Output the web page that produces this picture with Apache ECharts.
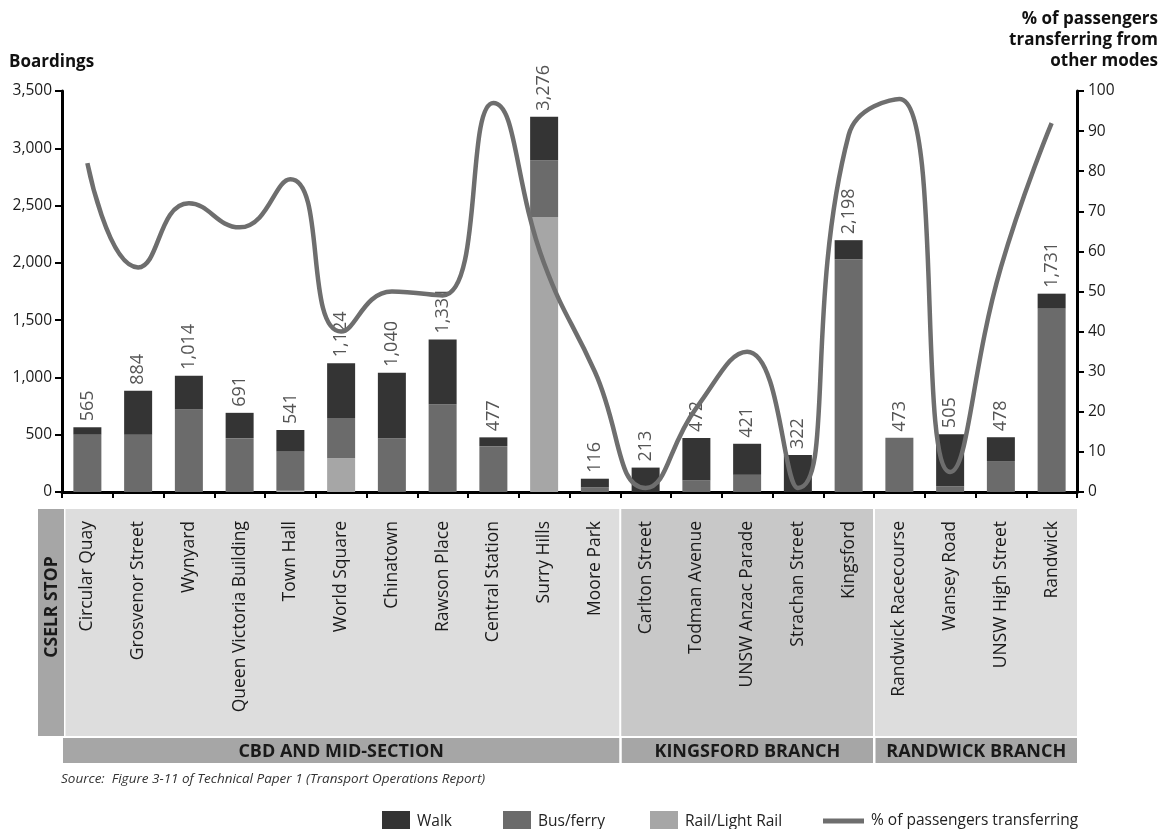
<!DOCTYPE html>
<html>
<head>
<meta charset="utf-8">
<script src="https://cdn.jsdelivr.net/npm/echarts@6/dist/echarts.min.js"></script>
<style>
  html, body { margin: 0; padding: 0; background: #ffffff; }
  #chart { width: 1162px; height: 829px; }
</style>
</head>
<body>
<div id="chart"></div>
<script>
// CSELR stops, in line order
const stops = [
  'Circular Quay', 'Grosvenor Street', 'Wynyard', 'Queen Victoria Building', 'Town Hall',
  'World Square', 'Chinatown', 'Rawson Place', 'Central Station', 'Surry Hills', 'Moore Park',
  'Carlton Street', 'Todman Avenue', 'UNSW Anzac Parade', 'Strachan Street', 'Kingsford',
  'Randwick Racecourse', 'Wansey Road', 'UNSW High Street', 'Randwick'
];

// Total boardings per stop (printed above each bar)
const totals = [565, 884, 1014, 691, 541, 1124, 1040, 1331, 477, 3276, 116,
                213, 472, 421, 322, 2198, 473, 505, 478, 1731];

// Boardings by access mode
const railLightRail = [0, 0, 0, 0, 12, 295, 0, 0, 0, 2400, 0,
                       0, 0, 0, 0, 0, 0, 0, 0, 0];
const busFerry = [500, 500, 720, 470, 340, 350, 470, 765, 400, 495, 40,
                  0, 100, 150, 0, 2030, 473, 50, 270, 1600];
const walk = [65, 384, 294, 221, 189, 479, 570, 566, 77, 381, 76,
              213, 372, 271, 322, 168, 0, 455, 208, 131];

// % of passengers transferring from other modes
const pctTransferring = [82, 56, 72, 66, 78, 40, 50, 49, 97, 57, 30,
                         1, 21, 35, 1, 89, 98, 5, 56, 92];

// Line sections
const sections = [
  { name: 'CBD AND MID-SECTION', first: 0, last: 10, fill: '#dddddd' },
  { name: 'KINGSFORD BRANCH', first: 11, last: 15, fill: '#c8c8c8' },
  { name: 'RANDWICK BRANCH', first: 16, last: 19, fill: '#dddddd' }
];

const FONT = '"Open Sans", "Noto Sans", sans-serif';
const fmt = v => Number(v).toLocaleString('en-US');

const chart = echarts.init(document.getElementById('chart'), null, { renderer: 'canvas' });

const GRID = { left: 62, right: 85, top: 91, height: 401 };
const legendText = { fontSize: 15.5, color: '#222', fontFamily: FONT, padding: [0, 0, 0, 2] };

chart.setOption({
  animation: false,
  textStyle: { fontFamily: FONT },
  grid: GRID,
  legend: [
    { data: ['Walk'], left: 377, top: 806, itemWidth: 28, itemHeight: 22, icon: 'rect', textStyle: legendText },
    { data: ['Bus/ferry'], left: 498, top: 806, itemWidth: 28, itemHeight: 22, icon: 'rect', textStyle: legendText },
    { data: ['Rail/Light Rail'], left: 645, top: 806, itemWidth: 28, itemHeight: 22, icon: 'rect', textStyle: legendText },
    { data: ['% of passengers transferring'], left: 818, top: 808, itemWidth: 41, itemHeight: 5, icon: 'rect',
      textStyle: legendText }
  ],
  xAxis: {
    type: 'category',
    data: stops,
    boundaryGap: true,
    axisLine: { lineStyle: { color: '#000', width: 3 } },
    axisTick: { show: true, length: 6, lineStyle: { color: '#000', width: 2 } },
    axisLabel: {
      rotate: 90, margin: 29, fontSize: 17.5, color: '#1a1a1a', fontFamily: FONT, interval: 0
    }
  },
  yAxis: [
    {
      type: 'value', min: 0, max: 3500, interval: 500,
      axisLine: { show: true, lineStyle: { color: '#000', width: 3 } },
      axisTick: { show: true, length: 7, lineStyle: { color: '#000', width: 2 } },
      axisLabel: { fontSize: 15.5, color: '#1a1a1a', margin: 10, fontFamily: FONT, formatter: fmt },
      splitLine: { show: false }
    },
    {
      type: 'value', min: 0, max: 100, interval: 10, position: 'right',
      axisLine: { show: true, lineStyle: { color: '#000', width: 3 } },
      axisTick: { show: true, length: 7, lineStyle: { color: '#000', width: 2 } },
      axisLabel: { fontSize: 15.5, color: '#1a1a1a', margin: 11, fontFamily: FONT },
      splitLine: { show: false }
    }
  ],
  series: [
    {
      name: 'Rail/Light Rail', type: 'bar', stack: 'boardings', barWidth: 28,
      data: railLightRail, itemStyle: { color: '#a6a6a6' }
    },
    {
      name: 'Bus/ferry', type: 'bar', stack: 'boardings', barWidth: 28,
      data: busFerry, itemStyle: { color: '#6b6b6b' }
    },
    {
      name: 'Walk', type: 'bar', stack: 'boardings', barWidth: 28,
      data: walk, itemStyle: { color: '#343434' },
      label: {
        show: true, position: 'top', rotate: 90, align: 'left', verticalAlign: 'middle',
        distance: 6, fontSize: 18, color: '#555555', fontFamily: FONT,
        formatter: p => fmt(totals[p.dataIndex])
      }
    },
    {
      name: '% of passengers transferring', type: 'line', yAxisIndex: 1, z: 5,
      data: pctTransferring, smooth: true, symbol: 'none',
      lineStyle: { color: '#6e6e6e', width: 4.5 }, itemStyle: { color: '#6e6e6e' }
    }
  ]
});

// Stop table beneath the axis: section panels, section headers and captions
function drawTable() {
  const c0 = chart.convertToPixel({ xAxisIndex: 0 }, 0);
  const c1 = chart.convertToPixel({ xAxisIndex: 0 }, 1);
  const band = c1 - c0;
  const edge = i => c0 - band / 2 + i * band;
  const panelTop = 509, panelBottom = 736, headTop = 738, headBottom = 763;
  const els = [];

  els.push({ type: 'rect', z: -10, shape: { x: 38, y: panelTop, width: 26, height: panelBottom - panelTop },
             style: { fill: '#a6a6a6' } });
  els.push({ type: 'text', z: 5, x: 52, y: 607, rotation: Math.PI / 2,
             style: { text: 'CSELR STOP', fontSize: 17.5, fontWeight: 'bold', fontFamily: FONT,
                      fill: '#1a1a1a', align: 'center', verticalAlign: 'middle' } });

  sections.forEach((s, k) => {
    const x0 = edge(s.first), x1 = edge(s.last + 1);
    const px0 = k === 0 ? x0 + 3.5 : x0 + 1;
    const px1 = k === sections.length - 1 ? x1 : x1 - 1;
    els.push({ type: 'rect', z: -10, shape: { x: px0, y: panelTop, width: px1 - px0, height: panelBottom - panelTop },
               style: { fill: s.fill } });
    const hx0 = k === 0 ? x0 + 1 : x0 + 1.5;
    els.push({ type: 'rect', z: -10, shape: { x: hx0, y: headTop, width: px1 - hx0, height: headBottom - headTop },
               style: { fill: '#a6a6a6' } });
    els.push({ type: 'text', z: 5, x: (hx0 + px1) / 2, y: (headTop + headBottom) / 2 + 1,
               style: { text: s.name, fontSize: 18, fontWeight: 'bold', fontFamily: FONT, fill: '#1a1a1a',
                        align: 'center', verticalAlign: 'middle' } });
  });

  els.push({ type: 'text', x: 61, y: 779,
             style: { text: 'Source:  Figure 3-11 of Technical Paper 1 (Transport Operations Report)',
                      fontSize: 13.5, fontStyle: 'italic', fontFamily: FONT, fill: '#333',
                      align: 'left', verticalAlign: 'middle' } });

  els.push({ type: 'text', x: 9, y: 62,
             style: { text: 'Boardings', fontSize: 17, fontWeight: 'bold', fontFamily: FONT, fill: '#111',
                      align: 'left', verticalAlign: 'middle' } });
  els.push({ type: 'text', x: 1158, y: 9,
             style: { text: '% of passengers\ntransferring from\nother modes', fontSize: 17, fontWeight: 'bold',
                      lineHeight: 21, fontFamily: FONT, fill: '#111', align: 'right', verticalAlign: 'top' } });

  chart.setOption({ graphic: { elements: els } });
}
drawTable();
</script>
</body>
</html>
